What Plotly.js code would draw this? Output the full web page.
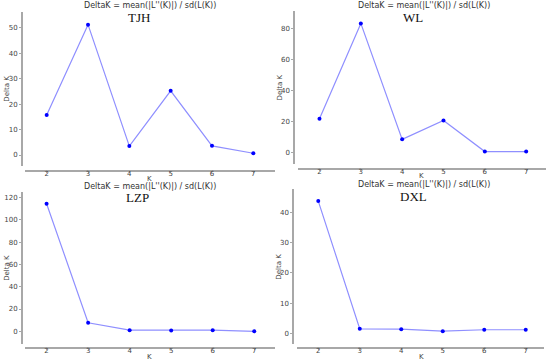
<!DOCTYPE html>
<html><head><meta charset="utf-8">
<script src="https://cdn.plot.ly/plotly-3.0.1.min.js"></script>
<style>html,body{margin:0;padding:0;background:#fff}#c{width:550px;height:361px}</style>
</head><body><div id="c"></div>
<script>
const K = [2, 3, 4, 5, 6, 7];
const tjh = [15.7, 51.2, 3.5, 25.2, 3.6, 0.7];
const wl  = [21.5, 83.0, 8.2, 20.4, 0.3, 0.3];
const lzp = [114.6, 7.7, 1.0, 0.7, 1.0, 0.0];
const dxl = [43.7, 1.5, 1.4, 0.75, 1.2, 1.2];
const panelNames = ["TJH", "WL", "LZP", "DXL"];
const mainTitle = "DeltaK = mean(|L''(K)|) / sd(L(K))";
const yTitle = "Delta K";
const xTitle = "K";

const W = 550, H = 361;
const fx = p => p / W, fy = p => 1 - p / H;

const geo = [
  {x0:25, x1:275, xr:[1.475,7.525], yTop:11.7, yBot:165.7, yr:[-4.2,56.3], yax:21, xay:170, dt:[0,10,20,30,40,50], tx:150, ty:6, lx:139, ly:18, ytx:7, ktx:149, kty:179},
  {x0:298, x1:546, xr:[1.48,7.48], yTop:11, yBot:164, yr:[-7.7,91], yax:293.3, xay:168, dt:[0,20,40,60,80], tx:424, ty:6, lx:413, ly:18, ytx:279, ktx:421.7, kty:175.5},
  {x0:25, x1:275, xr:[1.48,7.5], yTop:191.7, yBot:344, yr:[-11.4,125.4], yax:21, xay:347.3, dt:[0,20,40,60,80,100,120], tx:150, ty:186, lx:137, ly:197, ytx:7, ktx:149, kty:356.5},
  {x0:296.7, x1:544, xr:[1.48,7.44], yTop:189.3, yBot:344, yr:[-3.5,47.6], yax:292.3, xay:347.3, dt:[0,10,20,30,40], tx:424, ty:184, lx:413, ly:196, ytx:279, ktx:421.7, kty:356.5}
];
const series = [tjh, wl, lzp, dxl];

const data = [], layout = {
  width: W, height: H, margin:{l:0,r:0,t:0,b:0},
  paper_bgcolor:'#fff', plot_bgcolor:'rgba(0,0,0,0)', showlegend:false,
  annotations: []
};
const tickFont = {family:'DejaVu Sans, sans-serif', size:7, color:'#444'};
series.forEach((s, i) => {
  const g = geo[i], n = i + 1, xs = n === 1 ? '' : n, ys = n === 1 ? '' : n;
  data.push({
    x: K, y: s, xaxis: 'x' + xs, yaxis: 'y' + ys, type: 'scatter', mode: 'lines+markers',
    line: {color:'#8f8fff', width:1.2},
    marker: {color:'#0000ff', size:4, symbol:'circle'},
    cliponaxis:false
  });
  layout['xaxis' + xs] = {
    domain:[fx(g.x0), fx(g.x1)], range:g.xr, anchor:'free', position: fy(g.xay),
    showline:true, linecolor:'#a8a8a8', linewidth:1.5, showgrid:false, zeroline:false,
    ticks:'outside', ticklen:1.5, tickcolor:'#a8a8a8', tickvals:K, showticklabels:false,
    fixedrange:true
  };
  layout['xaxis' + (n + 4)] = {
    domain:[fx(g.x0), fx(g.x1)], range:g.xr, anchor:'free', position: fy(g.xay - 2.5),
    overlaying:'x' + xs, showline:false, showgrid:false, zeroline:false,
    ticks:'', tickvals:K, tickfont:tickFont, fixedrange:true
  };
  layout['yaxis' + ys] = {
    domain:[fy(g.yBot), fy(g.yTop)], range:g.yr, anchor:'free', position: fx(g.yax),
    showline:true, linecolor:'#a8a8a8', linewidth:1.5, showgrid:false, zeroline:false,
    ticks:'outside', ticklen:2, tickcolor:'#a8a8a8', tickvals:g.dt, tickfont:tickFont,
    fixedrange:true
  };
  layout.annotations.push({
    xref:'paper', yref:'paper', x:fx(g.tx), y:fy(g.ty), text:mainTitle, showarrow:false,
    xanchor:'center', yanchor:'middle', font:{family:'DejaVu Sans, sans-serif', size:8, color:'#333'}
  });
  layout.annotations.push({
    xref:'paper', yref:'paper', x:fx(g.lx), y:fy(g.ly), text:panelNames[i], showarrow:false,
    xanchor:'center', yanchor:'middle', font:{family:'Liberation Serif, Times New Roman, serif', size:13, color:'#111'}
  });
  layout.annotations.push({
    xref:'paper', yref:'paper', x:fx(g.ytx), y:fy((g.yTop+g.yBot)/2), text:yTitle, showarrow:false,
    textangle:-90, xanchor:'center', yanchor:'middle', font:tickFont
  });
  layout.annotations.push({
    xref:'paper', yref:'paper', x:fx(g.ktx), y:fy(g.kty), text:xTitle, showarrow:false,
    xanchor:'center', yanchor:'middle', font:tickFont
  });
});
series.forEach((s, i) => {
  data.push({x:[K[0]], y:[s[0]], xaxis:'x' + (i + 5), yaxis:'y' + (i === 0 ? '' : i + 1),
    type:'scatter', mode:'markers', marker:{size:0.1, opacity:0}, hoverinfo:'skip'});
});
Plotly.newPlot('c', data, layout, {staticPlot:true});
</script>
</body></html>
